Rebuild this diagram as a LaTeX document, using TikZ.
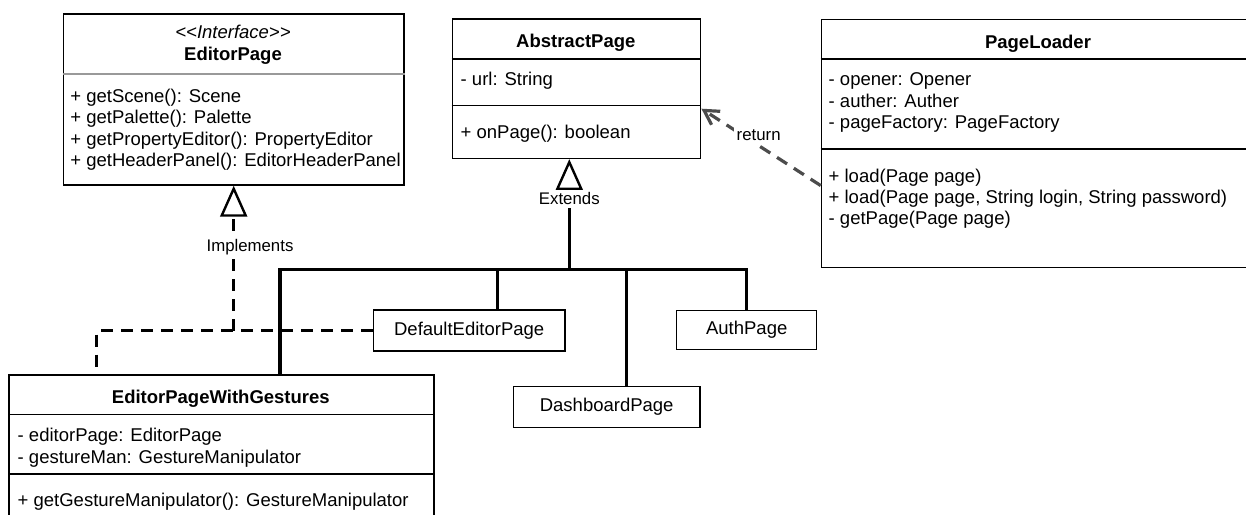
\documentclass[tikz,border=0pt]{standalone}
\usepackage{fontspec}
\setmainfont{Liberation Sans}
\usetikzlibrary{arrows.meta,positioning}
\newcommand{\umlfont}{\fontsize{9.25}{10.65}\selectfont}
\newcommand{\lblfont}{\fontsize{8.4}{10}\selectfont}
\tikzset{
  classbox/.style={draw=black, line width=0.7pt, anchor=north west, inner sep=0pt},
  smallbox/.style={draw=black, line width=0.7pt, inner sep=0pt, font=\umlfont},
  classname/.style={anchor=base, inner sep=0pt, font=\umlfont\bfseries},
  members/.style={anchor=west, align=left, inner sep=0pt, font=\umlfont},
  sepline/.style={line width=0.7pt},
  branch/.style={line width=1.6pt},
  inherit/.style={line width=1.6pt, -{Triangle[open, length=15.5pt, width=13.5pt, line width=1.2pt]}},
  realize/.style={line width=1.6pt, dash pattern=on 6pt off 4pt},
  usage/.style={line width=1.6pt, draw=black!70, dash pattern=on 6pt off 4pt, -{Straight Barb[length=7pt, width=8pt]}},
  edgelabel/.style={fill=white, inner sep=1.5pt, font=\lblfont}
}
\begin{document}
\begin{tikzpicture}[x=0.5pt, y=-0.5pt]
  \useasboundingbox (0,0) rectangle (1246,514);

  % interface
  \node[classbox, minimum width=170.3pt, minimum height=85.5pt] (ep) at (62.7,13.3) {};
  \node[anchor=base, inner sep=0pt, font=\umlfont\itshape] (epStereo) at (233,38.8) {<\kern0pt<Interface>\kern0pt>};
  \node[classname] (epName) at (233,60.8) {EditorPage};
  \draw[sepline, draw=black!40] ([yshift=-30.35pt]ep.north west) -- ([yshift=-30.35pt]ep.north east);
  \node[members] (epOps) at (70,129.6) {+ getScene(): Scene\\+ getPalette(): Palette\\+ getPropertyEditor(): PropertyEditor\\+ getHeaderPanel(): EditorHeaderPanel};

  % abstract base
  \node[classbox, minimum width=124.15pt, minimum height=69.7pt] (abs) at (451.7,18.3) {};
  \node[classname] (absName) at (575.8,47.5) {AbstractPage};
  \draw[sepline] ([yshift=-20.35pt]abs.north west) -- ([yshift=-20.35pt]abs.north east);
  \draw[sepline] ([yshift=-43.7pt]abs.north west) -- ([yshift=-43.7pt]abs.north east);
  \node[members] (absAttr) at (460.3,81) {- url: String};
  \node[members] (absOps) at (460.3,133.7) {+ onPage(): boolean};

  % loader
  \node[classbox, minimum width=217.3pt, minimum height=123.85pt] (pl) at (820.7,19) {};
  \node[classname] (plName) at (1038,48.2) {PageLoader};
  \draw[sepline] ([yshift=-20pt]pl.north west) -- ([yshift=-20pt]pl.north east);
  \draw[sepline] ([yshift=-65pt]pl.north west) -- ([yshift=-65pt]pl.north east);
  \node[members] (plAttr) at (828.3,102.7) {- opener: Opener\\- auther: Auther\\- pageFactory: PageFactory};
  \node[members] (plOps) at (828.3,198.8) {+ load(Page page)\\+ load(Page page, String login, String password)\\- getPage(Page page)};

  % gestures wrapper
  \node[classbox, minimum width=212.5pt, minimum height=78pt] (epwg) at (8.3,374.3) {};
  \node[classname] (epwgName) at (220.8,403.2) {EditorPageWithGestures};
  \draw[sepline] ([yshift=-20pt]epwg.north west) -- ([yshift=-20pt]epwg.north east);
  \draw[sepline] ([yshift=-49.85pt]epwg.north west) -- ([yshift=-49.85pt]epwg.north east);
  \node[members] (epwgAttr) at (17.3,447.7) {- editorPage: EditorPage\\- gestureMan: GestureManipulator};
  \node[members] (epwgOps) at (17.3,501.7) {+ getGestureManipulator(): GestureManipulator};

  % simple pages
  \node[smallbox, minimum width=95.85pt, minimum height=20.5pt] (dep) at (469.2,330.5) {DefaultEditorPage};
  \node[smallbox, minimum width=70pt, minimum height=19.5pt] (auth) at (746.7,330) {AuthPage};
  \node[smallbox, minimum width=93.35pt, minimum height=20.3pt] (dash) at (606.7,407) {DashboardPage};

  % extends tree
  \coordinate (ext) at (569.3,269.3);
  \draw[branch] ([xshift=135.85pt]epwg.north west) |- (ext);
  \draw[branch] ([xshift=14.25pt]dep.north) |- (ext);
  \draw[branch] ([xshift=10pt]dash.north) |- (ext);
  \draw[branch] (ext) -| (auth.north);
  \draw[inherit] (ext) -- node[edgelabel, pos=0.64] {Extends} (ext |- abs.south);

  % implements
  \coordinate (impl) at (dep.west -| ep.south);
  \draw[realize] (dep.west) -- (impl) -| ([xshift=44.2pt]epwg.north west);
  \draw[realize, -{Triangle[open, length=15.5pt, width=13.5pt, line width=1.2pt]}] (impl) -- node[edgelabel, pos=0.573, xshift=8.15pt] {Implements} (ep.south);

  % return
  \draw[usage] ([yshift=-21pt]pl.west) -- node[edgelabel, pos=0.52, yshift=5pt] {return} ([yshift=-10pt]abs.east);
\end{tikzpicture}
\end{document}
